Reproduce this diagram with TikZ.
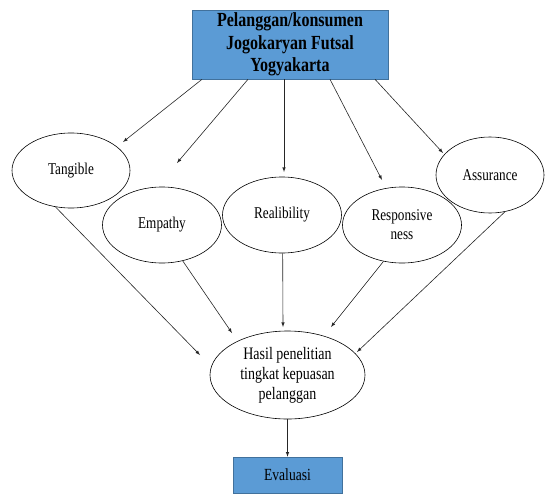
\documentclass[tikz,border=0pt]{standalone}
\usepackage{fontspec}
\setmainfont[FakeStretch=0.8]{Liberation Serif}
\usepackage{tikz}
\usetikzlibrary{arrows, shapes.geometric}
\definecolor{boxblue}{HTML}{5B9BD5}
\definecolor{boxline}{HTML}{41719C}

\begin{document}
\begin{tikzpicture} [x=1pt, y=-1pt, line width=0.6pt,
  var/.style={draw, ellipse, inner sep=0pt, minimum width=119pt, minimum height=76pt, align=center, font=\fontsize{16.5}{19}\selectfont},
  box/.style={draw=boxline, fill=boxblue, inner sep=0pt, align=center},
  arr/.style={-latex, draw=black!85}]
\useasboundingbox (0,0) rectangle (545,495);
\node[box, minimum width=196pt, minimum height=69pt, font=\fontsize{20}{22.5}\selectfont\bfseries](top) at (290,44.5){Pelanggan/konsumen\\ Jogokaryan Futsal\\ Yogyakarta};
\node[var, minimum width=118pt, minimum height=75pt](tan) at (71,170.5){Tangible};
\node[var](emp) at (162,225){Empathy};
\node[var](rea) at (282,215){Realibility};
\node[var](res) at (402,225){Responsive\\ ness};
\node[var, minimum width=108pt](asu) at (490,175){Assurance};
\node[var, minimum width=155pt, minimum height=88pt, font=\fontsize{17.5}{20}\selectfont](has) at (287.5,375){Hasil penelitian\\ tingkat kepuasan\\ pelanggan};
\node[box, minimum width=109pt, minimum height=36pt, font=\fontsize{17}{18}\selectfont](eva) at (287.5,475){Evaluasi};
% free ends of the arrows
\coordinate (tA) at (123,142);
\coordinate (eA) at (177,163);
\coordinate (rA) at (284,172);
\coordinate (sA) at (382,180);
\coordinate (aA) at (443,153);
\coordinate (tB) at (200,355);
\coordinate (eB) at (232,333);
\coordinate (rB) at (283,327);
\coordinate (sB) at (331,327);
\coordinate (aB) at (357,352);
\draw[arr] ([xshift=-88pt]top.south) -- (tA);
\draw[arr] ([xshift=-42pt]top.south) -- (eA);
\draw[arr] ([xshift=-6pt]top.south) -- (rA);
\draw[arr] ([xshift=40pt]top.south) -- (sA);
\draw[arr] ([xshift=85pt]top.south) -- (aA);
\draw[arr] (tan.-113) -- (tB);
\draw[arr] (emp.-60) -- (eB);
\draw[arr] (rea.-89) -- (rB);
\draw[arr] (res.-117) -- (sB);
\draw[arr] (asu.-68) -- (aB);
\draw[arr] (has) -- (eva);
\end{tikzpicture}
\end{document}
